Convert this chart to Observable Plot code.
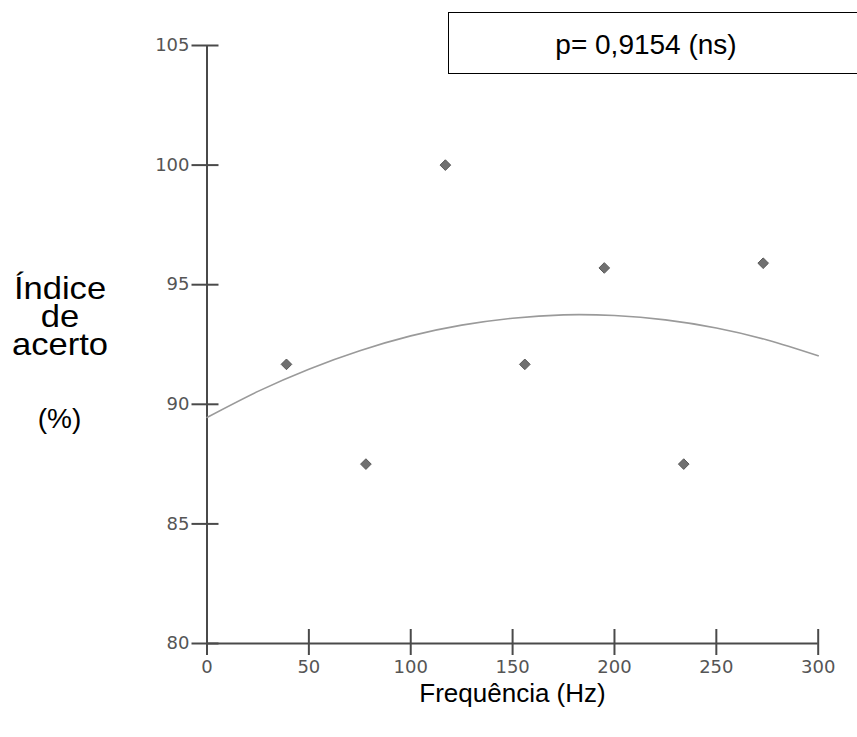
<!DOCTYPE html>
<html>
<head>
<meta charset="utf-8">
<script src="https://cdn.jsdelivr.net/npm/d3@7"></script>
<script src="https://cdn.jsdelivr.net/npm/@observablehq/plot@0.6"></script>
<style>
  html, body { margin: 0; padding: 0; background: #fff; }
  #wrap { position: relative; width: 857px; height: 737px; overflow: hidden; }
  #pbox { position: absolute; left: 448px; top: 12px; width: 420px; height: 62px;
          border: 1.5px solid #000; box-sizing: border-box; }
  #ptext { position: absolute; left: 646px; top: 45px; transform: translate(-50%, -50%);
           font-family: "Liberation Sans", Arial, sans-serif; font-size: 28px; color: #000; white-space: nowrap; }
  #ytitle { position: absolute; left: 60px; top: 274px; transform: translateX(-50%) scaleX(1.08);
            font-family: "Liberation Sans", Arial, sans-serif; font-size: 32px; line-height: 28px;
            color: #000; white-space: nowrap; text-align: center; }
</style>
</head>
<body>
<div id="wrap">
  <div id="chart"></div>
  <div id="pbox"></div>
  <div id="ptext">p= 0,9154 (ns)</div>
  <div id="ytitle"></div>
</div>
<script>
// Data
const freqHz = [39, 78, 117, 156, 195, 234, 273];
const acerto = [91.67, 87.5, 100, 91.67, 95.7, 87.5, 95.9];

// Fitted trend curve
const curveX = [0, 25, 50, 75, 100, 125, 150, 175, 200, 225, 250, 275, 300];
const curveY = [89.45, 90.54, 91.47, 92.24, 92.86, 93.31, 93.60, 93.74, 93.71, 93.53, 93.19, 92.69, 92.03];

const xTicks = [0, 50, 100, 150, 200, 250, 300];
const yTicks = [80, 85, 90, 95, 100, 105];

const yTitle = ["Índice", "de", "acerto"];
const yUnit = "(%)";
const xTitle = "Frequência (Hz)";

const points = freqHz.map((f, i) => ({f, v: acerto[i]}));
const curve = curveX.map((f, i) => ({f, v: curveY[i]}));

const axisColor = "#4a4a4a";
const tickFont = "DejaVu Sans, Verdana, sans-serif";
const labelFont = "Liberation Sans, Arial, sans-serif";

const W = 857, H = 737;
const mL = 206.5, mR = 39.3, mT = 45, mB = 94;
const plotW = W - mL - mR, plotH = H - mT - mB;

const chart = Plot.plot({
  width: W,
  height: H,
  marginLeft: mL,
  marginRight: mR,
  marginTop: mT,
  marginBottom: mB,
  style: {background: "#fff", overflow: "visible"},
  x: {domain: [0, 300], axis: null},
  y: {domain: [80, 105], axis: null},
  marks: [
    // axis lines
    Plot.ruleX([0], {y1: 80, y2: 105, stroke: axisColor, strokeWidth: 2}),
    Plot.ruleY([80], {x1: 0, x2: 300, stroke: axisColor, strokeWidth: 2}),
    // crossing tick marks
    Plot.tickX(xTicks, {x: d => d, stroke: axisColor, strokeWidth: 2, insetTop: plotH - 14, insetBottom: -12}),
    Plot.tickY(yTicks, {y: d => d, stroke: axisColor, strokeWidth: 2, insetLeft: -15, insetRight: plotW - 12}),
    // tick labels
    Plot.axisX({ticks: xTicks, label: null, tickSize: 0, tickPadding: 17, fontSize: 18, tickFormat: d => String(d),
      fill: "#555", fontFamily: tickFont}),
    Plot.axisY({ticks: yTicks, label: null, tickSize: 0, tickPadding: 17.5, fontSize: 18, tickFormat: d => String(d),
      fill: "#555", fontFamily: tickFont}),
    // trend curve
    Plot.line(curve, {x: "f", y: "v", curve: "natural", stroke: "#9a9a9a", strokeWidth: 1.6}),
    // data points
    Plot.dot(points, {x: "f", y: "v", symbol: "diamond2", r: 4.8, fill: "#707070", stroke: "#5a5a5a", strokeWidth: 1}),
    // axis titles
    Plot.text([xTitle], {frameAnchor: "bottom", dx: 512 - mL - plotW / 2, dy: 50, text: d => d,
      fontSize: 26, fontFamily: labelFont, fill: "#000", lineAnchor: "middle", textAnchor: "middle"}),
    Plot.text([yUnit], {frameAnchor: "top-left", dx: 59 - mL, dy: 419 - mT, text: d => d,
      fontSize: 28, fontFamily: labelFont, fill: "#000", lineAnchor: "middle", textAnchor: "middle"})
  ]
});
document.getElementById("chart").appendChild(chart);

// multi-line y title as one text block
const yt = document.getElementById("ytitle");
yTitle.forEach((t, i) => {
  if (i > 0) yt.appendChild(document.createElement("br"));
  yt.appendChild(document.createTextNode(t));
});
</script>
</body>
</html>
